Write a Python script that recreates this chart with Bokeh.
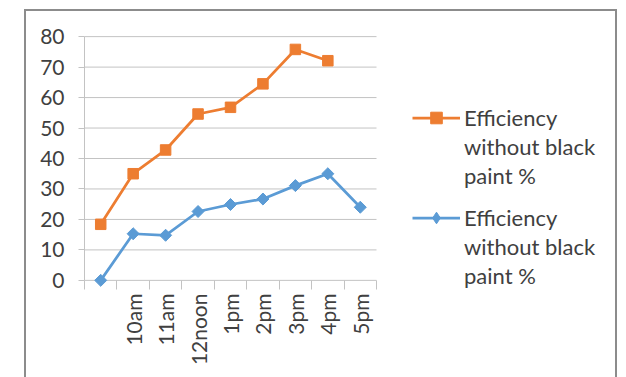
import numpy as np
from bokeh.plotting import figure
from bokeh.models import Range1d, FixedTicker, Legend, LegendItem
from bokeh.embed import file_html
from bokeh.resources import INLINE

# Hour of day (the first reading carries no label on the axis)
hours = ["", "10am", "11am", "12noon", "1pm", "2pm", "3pm", "4pm", "5pm"]

# Efficiency readings, %
eff_orange = [18.4, 35.0, 42.8, 54.6, 56.8, 64.5, 75.8, 72.1]
eff_blue = [0.0, 15.3, 14.8, 22.6, 24.9, 26.7, 31.1, 35.0, 24.0]

y_ticks = [0, 10, 20, 30, 40, 50, 60, 70, 80]
legend_lines = ["Efficiency", "without black", "paint %"]

ORANGE = "#ED7D31"
BLUE = "#5B9BD5"
GRID = "#c3c3c3"
TEXT = "#404040"
BOX = "#8c8c8c"
FONT = "Lato"

W, H = 626, 377
LEFT, TOP, BOTTOM = 84, 27, 88
CAT_PX = 292 / len(hours)          # width of one hour slot in pixels

n = len(hours)
x_lo, x_hi = -0.5, n - 0.5
x_end = x_lo + (W - LEFT) / CAT_PX  # the frame also hosts the legend area

x_orange = list(range(len(eff_orange)))
x_blue = list(range(len(eff_blue)))

p = figure(
    width=W, height=H,
    output_backend="svg", toolbar_location=None,
    x_range=Range1d(x_lo, x_end),
    y_range=Range1d(-3, 83),
    min_border_left=LEFT, min_border_right=0,
    min_border_top=TOP, min_border_bottom=BOTTOM,
)
p.outline_line_color = None
p.background_fill_color = None
p.border_fill_color = None

# thin grey chart border drawn behind the canvas
p.styles = {
    "background": (
        f"linear-gradient({BOX},{BOX}) 24px 9px / 2px 420px no-repeat, "
        f"linear-gradient({BOX},{BOX}) 24px 9px / 593px 2px no-repeat, "
        f"linear-gradient({BOX},{BOX}) 615px 9px / 2px 420px no-repeat, "
        "white"
    )
}

# horizontal grid limited to the hour slots (the 0 line doubles as x axis)
p.xgrid.visible = False
p.ygrid.visible = False
p.segment(x0=[x_lo] * len(y_ticks), x1=[x_hi] * len(y_ticks),
          y0=y_ticks, y1=y_ticks, line_color=GRID, line_width=1)

# y axis
p.yaxis.ticker = FixedTicker(ticks=y_ticks)
p.yaxis.bounds = (0, 80)
p.yaxis.axis_line_color = GRID
p.yaxis.major_tick_line_color = GRID
p.yaxis.major_tick_out = 6
p.yaxis.major_tick_in = 0
p.yaxis.minor_tick_line_color = None
p.yaxis.major_label_standoff = 14
p.yaxis.major_label_text_font = FONT
p.yaxis.major_label_text_font_size = "21px"
p.yaxis.major_label_text_color = TEXT

# x axis: labels at slot centres, short ticks at slot boundaries
p.xaxis.ticker = FixedTicker(
    ticks=list(range(n)),
    minor_ticks=[i - 0.5 for i in range(n + 1)],
)
p.xaxis.major_label_overrides = {i: h for i, h in enumerate(hours)}
p.xaxis.axis_line_color = None
p.xaxis.major_tick_line_color = None
p.xaxis.major_tick_out = 0
p.xaxis.major_tick_in = 0
p.xaxis.minor_tick_line_color = GRID
p.xaxis.minor_tick_out = 0
p.xaxis.minor_tick_in = 9
p.xaxis.major_label_orientation = np.pi / 2
p.xaxis.major_label_standoff = 4
p.xaxis.major_label_text_font = FONT
p.xaxis.major_label_text_font_size = "21px"
p.xaxis.major_label_text_color = TEXT

# series
ol = p.line(x_orange, eff_orange, line_color=ORANGE, line_width=2.75)
os_ = p.scatter(x_orange, eff_orange, marker="square", size=10.5,
                fill_color=ORANGE, line_color=ORANGE)
bl = p.line(x_blue, eff_blue, line_color=BLUE, line_width=2.75)
bs = p.scatter(x_blue, eff_blue, marker="square", angle=np.pi / 4, size=8.5,
               fill_color=BLUE, line_color=BLUE)

# legend-only glyphs: a diamond key (no visible point) and an empty key
# for the wrapped text rows
b_key = p.scatter([np.nan], [np.nan], marker="diamond",
                  fill_color=BLUE, line_color=BLUE)
blank = p.line([], [], line_alpha=0)


def add_legend(renderers, loc):
    items = [LegendItem(label=legend_lines[0], renderers=renderers)]
    items += [LegendItem(label=t, renderers=[blank]) for t in legend_lines[1:]]
    p.add_layout(Legend(
        items=items, location=loc,
        border_line_color=None, background_fill_alpha=0,
        padding=0, margin=0, spacing=0,
        glyph_width=48, glyph_height=29, label_height=29,
        label_standoff=4,
        label_text_font=FONT, label_text_font_size="22px",
        label_text_color=TEXT,
    ), "center")


add_legend([ol, os_], (328, 99.5))
add_legend([bl, b_key], (328, -0.5))

open("out.html", "w").write(file_html(p, INLINE))
